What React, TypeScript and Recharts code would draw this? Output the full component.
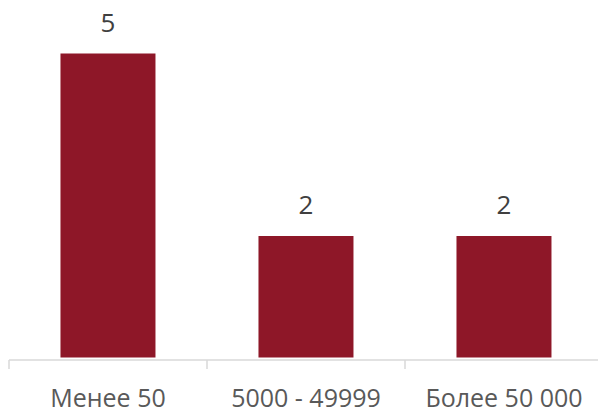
import React from 'react';
import { BarChart, Bar, XAxis, YAxis, LabelList } from 'recharts';

const categories = ['Менее 50', '5000 - 49999', 'Более 50 000'];
const values = [5, 2, 2];

const data = categories.map((c, i) => ({ name: c, value: values[i] }));

const FONT = '"Open Sans", sans-serif';
const TICK_SIZE = 9;
const TICK_MARGIN = 19.75;

function CategoryTick(props: any) {
  const { x, y, payload, index, visibleTicksCount } = props;
  const half = payload && typeof payload.offset === 'number' && payload.offset > 0 ? payload.offset : 99;
  const lineY1 = y - TICK_MARGIN - TICK_SIZE;
  const lineY2 = y - TICK_MARGIN;
  const isLast = index === (visibleTicksCount ?? 3) - 1;
  return (
    <g>
      <line x1={x - half} x2={x - half} y1={lineY1} y2={lineY2} stroke="#d9d9d9" strokeWidth={1.5} />
      {isLast && (
        <line x1={x + half} x2={x + half} y1={lineY1} y2={lineY2} stroke="#d9d9d9" strokeWidth={1.5} />
      )}
      <text
        x={x}
        y={y}
        dy="0.71em"
        textAnchor="middle"
        fill="#595959"
        fontSize={25}
        fontFamily={FONT}
      >
        {payload.value}
      </text>
    </g>
  );
}

export default function App() {
  return (
    <div style={{ position: 'absolute', left: 0, top: 0, width: 598, height: 413, overflow: 'hidden', background: '#fff' }}>
      <BarChart
        width={612}
        height={413}
        data={data}
        margin={{ top: 23.2, right: 9, bottom: 0, left: 9 }}
        barCategoryGap="26%"
      >
        <YAxis hide domain={[-0.04, 5.5]} allowDataOverflow />
        <XAxis
          dataKey="name"
          height={53}
          tickSize={TICK_SIZE}
          tickMargin={TICK_MARGIN}
          axisLine={{ stroke: '#d9d9d9', strokeWidth: 1.5 }}
          tickLine={false}
          interval={0}
          tick={<CategoryTick />}
        />
        <Bar dataKey="value" fill="#8e1728" isAnimationActive={false}>
          <LabelList
            dataKey="value"
            position="top"
            offset={21.5}
            style={{ fill: '#404040', fontSize: 26, fontFamily: FONT }}
          />
        </Bar>
      </BarChart>
    </div>
  );
}
